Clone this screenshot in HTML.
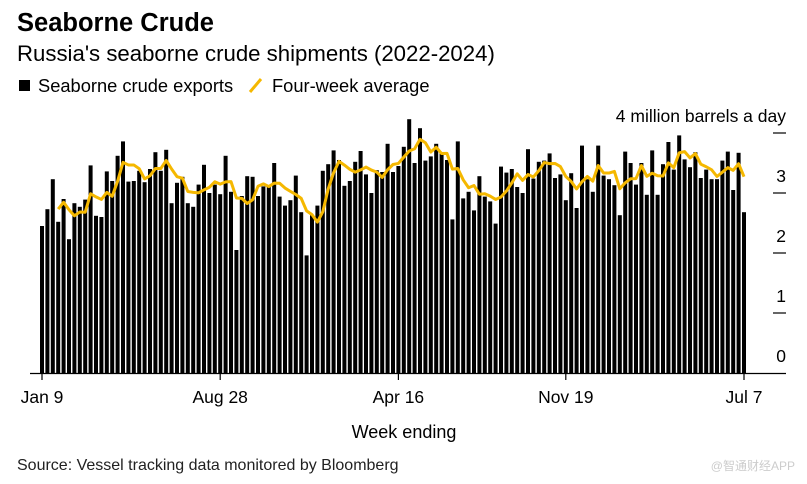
<!DOCTYPE html>
<html><head><meta charset="utf-8"><style>
body{margin:0;background:#fff;width:807px;height:484px;overflow:hidden;font-family:"Liberation Sans",sans-serif;}
svg{display:block}
</style></head><body>
<svg width="807" height="484" xmlns="http://www.w3.org/2000/svg">
<text x="17" y="31" font-size="25.5" font-weight="bold" fill="#000">Seaborne Crude</text>
<text x="17" y="61" font-size="22.2" fill="#000">Russia's seaborne crude shipments (2022-2024)</text>
<g>
<rect x="19" y="80" width="11" height="11" fill="#000"/>
<text x="38" y="92" font-size="18.3" fill="#000">Seaborne crude exports</text>
<line x1="250" y1="92" x2="261" y2="79" stroke="#f5b800" stroke-width="3"/>
<text x="272" y="92" font-size="18.3" fill="#000">Four-week average</text>
</g>
<g id="bars"></g>
<polyline id="avg" fill="none" stroke="#f5b800" stroke-width="3" stroke-linejoin="round"/>
<line x1="30" y1="373.5" x2="786" y2="373.5" stroke="#000" stroke-width="1.3"/>
<g id="yaxis"></g>
<g id="xaxis"></g>
<text x="404" y="438" font-size="18" text-anchor="middle" fill="#000">Week ending</text>
<text x="17" y="470" font-size="16" fill="#222">Source: Vessel tracking data monitored by Bloomberg</text>
<text x="795" y="470" font-size="12" text-anchor="end" fill="#ccc" font-family="'Liberation Sans','Noto Sans CJK SC',sans-serif">@智通财经APP</text>
</svg>
<script>
const values = [2.45,2.73,3.23,2.52,2.9,2.23,2.83,2.77,2.89,3.46,2.62,2.6,3.36,3.2,3.62,3.86,3.19,3.2,3.37,3.18,3.4,3.68,3.37,3.72,2.83,3.17,3.27,2.83,2.77,3.14,3.47,3.0,3.14,2.98,3.62,3.02,2.05,2.95,3.28,3.27,2.95,3.11,3.1,3.5,2.94,
2.79,2.88,3.29,2.68,1.96,2.63,2.79,3.37,3.48,3.71,3.55,3.12,3.2,3.52,3.7,3.31,3.0,3.38,3.35,3.82,3.35,3.45,3.77,4.23,3.5,4.08,3.54,3.61,3.82,3.66,3.55,2.56,3.86,2.91,3.02,2.71,3.28,2.94,2.86,2.49,3.44,3.34,3.4,3.1,
3.0,3.73,3.24,3.52,3.54,3.66,3.25,3.31,2.88,3.33,2.75,3.79,3.23,3.02,3.79,3.29,3.23,3.13,2.63,3.69,3.5,3.14,3.5,2.97,3.71,2.97,3.48,3.85,3.39,3.96,3.56,3.43,3.68,3.25,3.39,3.23,3.23,3.54,3.69,3.05,3.67,2.68];
const yTicks = [0,1,2,3,4];
const xTickIndex = [0,33,66,97,130];
const xTickLabels = ["Jan 9","Aug 28","Apr 16","Nov 19","Jul 7"];
const NS="http://www.w3.org/2000/svg";
const x0=40, step=(742-40)/130, bw=4, y0=373, unit=60;
function xs(i){return x0+i*step;}
function ys(v){return y0-v*unit;}
const bars=document.getElementById('bars');
values.forEach((v,i)=>{
  const r=document.createElementNS(NS,'rect');
  r.setAttribute('x',xs(i).toFixed(2));
  r.setAttribute('y',ys(v).toFixed(2));
  r.setAttribute('width',bw);
  r.setAttribute('height',(y0-ys(v)).toFixed(2));
  r.setAttribute('fill','#000');
  
  
  bars.appendChild(r);
});
const pts=[];
for(let i=3;i<values.length;i++){
  const a=(values[i]+values[i-1]+values[i-2]+values[i-3])/4;
  pts.push((xs(i)+bw/2).toFixed(2)+','+ys(a).toFixed(2));
}
document.getElementById('avg').setAttribute('points',pts.join(' '));
const ya=document.getElementById('yaxis');
yTicks.forEach(t=>{
  if(t>0){
    const l=document.createElementNS(NS,'line');
    l.setAttribute('x1',773);l.setAttribute('x2',786);
    l.setAttribute('y1',ys(t));l.setAttribute('y2',ys(t));
    l.setAttribute('stroke','#000');l.setAttribute('stroke-width','1.2');
    
    
    ya.appendChild(l);
  }
  const tx=document.createElementNS(NS,'text');
  tx.setAttribute('x',786);tx.setAttribute('y',ys(t)-11);
  tx.setAttribute('text-anchor','end');tx.setAttribute('font-size','17.5');
  tx.textContent = t===4 ? '4 million barrels a day' : String(t);
  
  
  ya.appendChild(tx);
});
const xa=document.getElementById('xaxis');
xTickIndex.forEach((idx,k)=>{
  const cx=xs(idx)+bw/2;
  const l=document.createElementNS(NS,'line');
  l.setAttribute('x1',cx);l.setAttribute('x2',cx);
  l.setAttribute('y1',373);l.setAttribute('y2',380);
  l.setAttribute('stroke','#000');l.setAttribute('stroke-width','1.2');
  
  
  xa.appendChild(l);
  const tx=document.createElementNS(NS,'text');
  tx.setAttribute('x',cx);tx.setAttribute('y',403);
  tx.setAttribute('text-anchor','middle');tx.setAttribute('font-size','17.5');
  tx.textContent=xTickLabels[k];
  
  
  xa.appendChild(tx);
});
</script>
</body></html>
